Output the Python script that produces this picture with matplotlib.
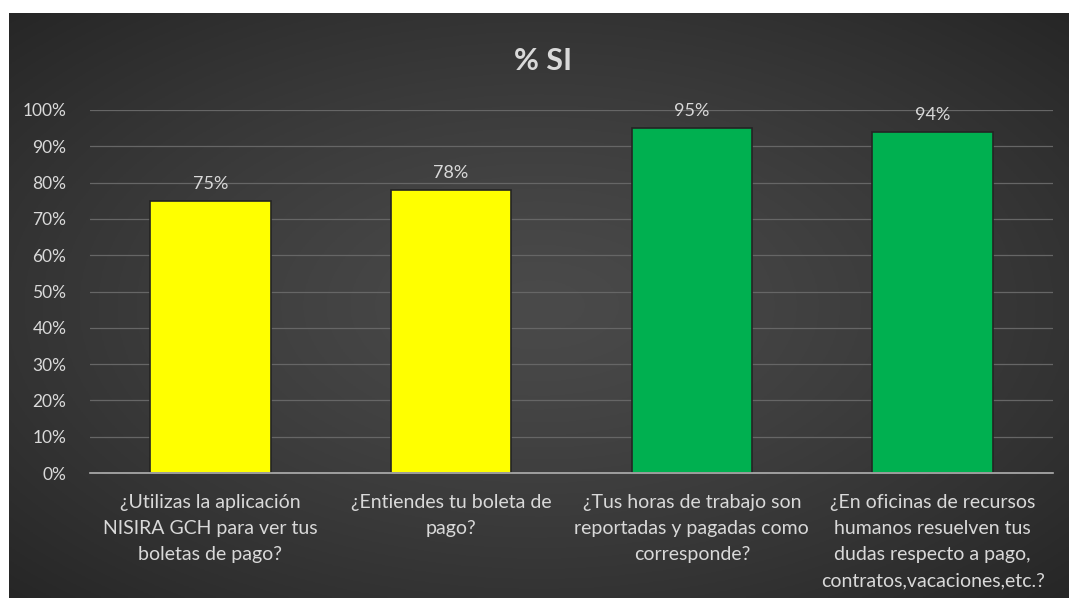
import matplotlib.pyplot as plt
import numpy as np

questions = [
    "¿Utilizas la aplicación\nNISIRA GCH para ver tus\nboletas de pago?",
    "¿Entiendes tu boleta de\npago?",
    "¿Tus horas de trabajo son\nreportadas y pagadas como\ncorresponde?",
    "¿En oficinas de recursos\nhumanos resuelven tus\ndudas respecto a pago,\ncontratos,vacaciones,etc.?",
]
pct_si = [0.75, 0.78, 0.95, 0.94]
bar_colors = ["#FFFF00", "#FFFF00", "#00B050", "#00B050"]
yticks = np.arange(0, 1.01, 0.1)

W, H = 1069, 601
TEXT = "#d9d9d9"
plt.rcParams["font.family"] = ["Lato", "DejaVu Sans"]

fig = plt.figure(figsize=(W / 100, H / 100), dpi=100, facecolor="white")

# dark chart area with a soft radial highlight in the middle
bg = fig.add_axes([9 / W, 3 / H, 1 - 9 / W, (598 - 13) / H])
gx, gy = np.meshgrid(np.linspace(-1, 1, 400), np.linspace(-1, 1, 240))
r = np.clip(np.sqrt(gx**2 + gy**2) / np.sqrt(2), 0, 1)
shade = 0.29 - 0.14 * r**1.3
bg.imshow(np.dstack([shade] * 3), aspect="auto", extent=[0, 1, 0, 1])
bg.set_axis_off()

ax = fig.add_axes([90 / W, 1 - 473 / H, (1053 - 90) / W, (473 - 110) / H])
ax.patch.set_alpha(0)
x = np.arange(len(questions))
bars = ax.bar(x, pct_si, width=0.5, color=bar_colors, zorder=3,
              edgecolor="#242424", linewidth=1.2)

for rect, v in zip(bars, pct_si):
    ax.text(rect.get_x() + rect.get_width() / 2, v + 0.025, f"{v:.0%}",
            ha="center", va="bottom", color=TEXT, fontsize=13)

ax.set_xlim(-0.5, len(questions) - 0.5)
ax.set_ylim(0, 1)
ax.set_yticks(yticks)
ax.set_yticklabels([f"{t:.0%}" for t in yticks], color=TEXT, fontsize=12.5)
ax.grid(axis="y", color="#666666", linewidth=0.9, zorder=0)
ax.tick_params(axis="y", length=0, pad=17)
ax.tick_params(axis="x", length=0)
ax.set_xticks(x)
ax.set_xticklabels([])
for q_x, q in zip(x, questions):
    ax.text(q_x, -0.058, q, ha="center", va="top", color=TEXT, fontsize=14,
            linespacing=1.65, transform=ax.get_xaxis_transform())

for s in ["top", "right", "left"]:
    ax.spines[s].set_visible(False)
ax.spines["bottom"].set_color("#b0b0b0")
ax.spines["bottom"].set_linewidth(1.2)
ax.spines["bottom"].set_zorder(4)

fig.text(543 / W, 1 - 61 / H, "% SI", ha="center", va="center",
         color=TEXT, fontsize=22, fontweight="bold")

fig.savefig("out.png", dpi=100, facecolor="white")
